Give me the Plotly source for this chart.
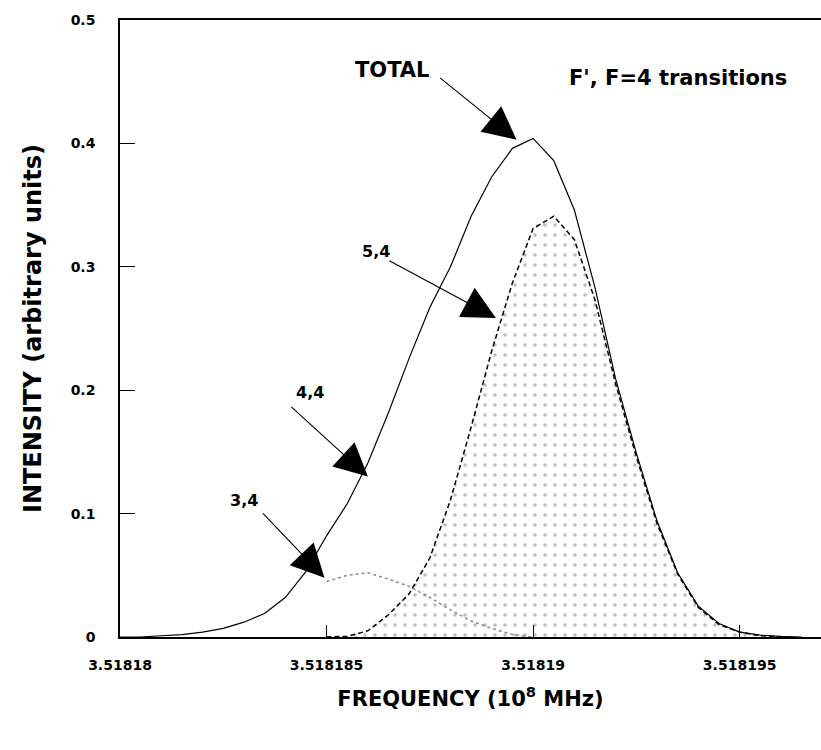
import plotly.graph_objects as go

# Frequency samples (10^8 MHz)
freq = [3.51818, 3.5181805, 3.518181, 3.5181815, 3.518182, 3.5181825, 3.518183,
        3.5181835, 3.518184, 3.5181845, 3.518185, 3.5181855, 3.518186, 3.5181865,
        3.518187, 3.5181875, 3.518188, 3.5181885, 3.518189, 3.5181895, 3.51819,
        3.5181905, 3.518191, 3.5181915, 3.518192, 3.5181925, 3.518193, 3.5181935,
        3.518194, 3.5181945, 3.518195, 3.5181955, 3.518196, 3.5181965]

total = [0.000, 0.000, 0.001, 0.002, 0.004, 0.007, 0.012, 0.019, 0.032, 0.053,
         0.082, 0.108, 0.141, 0.182, 0.226, 0.267, 0.300, 0.341, 0.373, 0.396,
         0.404, 0.386, 0.346, 0.283, 0.209, 0.149, 0.094, 0.052, 0.025, 0.011,
         0.004, 0.0015, 0.0005, 0.000]

freq_54 = freq[10:33]
trans_54 = [0.000, 0.0005, 0.005, 0.018, 0.035, 0.064, 0.111, 0.170, 0.232, 0.287,
            0.331, 0.341, 0.322, 0.273, 0.205, 0.146, 0.092, 0.051, 0.024, 0.010,
            0.004, 0.001, 0.000]

freq_34 = freq[10:21]
trans_34 = [0.045, 0.050, 0.052, 0.047, 0.041, 0.032, 0.022, 0.013, 0.007, 0.002, 0.000]

x_ticks = [3.51818, 3.518185, 3.51819, 3.518195]
x_tick_text = ["3.51818", "3.518185", "3.51819", "3.518195"]
y_ticks = [0, 0.1, 0.2, 0.3, 0.4, 0.5]
y_tick_text = ["0", "0.1", "0.2", "0.3", "0.4", "0.5"]

FONT = "DejaVu Sans, Liberation Sans, Arial, sans-serif"

fig = go.Figure()

fig.add_trace(go.Scatter(
    x=freq_54, y=trans_54, mode="lines", name="5,4",
    line=dict(color="black", width=1.5, dash="5px,3px"),
    fill="tozeroy", fillcolor="rgba(255,255,255,0)",
    fillpattern=dict(shape=".", fgcolor="#777777", bgcolor="white", size=10, solidity=0.1),
))
fig.add_trace(go.Scatter(
    x=freq_34, y=trans_34, mode="lines", name="3,4",
    line=dict(color="#8a8a8a", width=1.5, dash="dot"),
))
fig.add_trace(go.Scatter(
    x=freq, y=total, mode="lines", name="TOTAL",
    line=dict(color="black", width=1.2),
))

# Labels
labels = [
    ("<b>TOTAL</b>", 3.5181866, 0.4595, 21),
    ("<b>F', F=4 transitions</b>", 3.5181935, 0.453, 21),
    ("<b>5,4</b>", 3.5181862, 0.312, 16),
    ("<b>4,4</b>", 3.5181846, 0.198, 16),
    ("<b>3,4</b>", 3.518183, 0.111, 16),
]
for txt, lx, ly, fs in labels:
    fig.add_annotation(x=lx, y=ly, xref="x", yref="y", text=txt, showarrow=False,
                       font=dict(family=FONT, size=fs, color="black"))

# Arrows (tip on curve, tail offset in px)
arrows = [
    (3.5181896, 0.403, -78, -63),
    (3.5181891, 0.2585, -108, -58),
    (3.518186, 0.130, -78, -71),
    (3.51818495, 0.048, -63, -66),
]
for ax_, ay_, dx, dy in arrows:
    fig.add_annotation(x=ax_, y=ay_, xref="x", yref="y", text="", showarrow=True,
                       ax=dx, ay=dy, arrowhead=2, arrowsize=6, arrowwidth=1.1,
                       arrowcolor="black", standoff=0)

fig.update_layout(
    width=821, height=750,
    margin=dict(l=120, r=0, t=20, b=113),
    paper_bgcolor="white", plot_bgcolor="white",
    showlegend=False,
    font=dict(family=FONT, color="black"),
)
fig.update_xaxes(
    range=[3.51818, 3.51819697], tickvals=x_ticks, ticktext=[f"<b>{t}</b>" for t in x_tick_text],
    showgrid=False, zeroline=False, showline=True, linecolor="black", linewidth=1.5,
    mirror=True, ticks="inside", ticklen=12, tickcolor="black", tickwidth=1.2,
    tickfont=dict(size=14, family=FONT), ticklabelstandoff=14,
    title=dict(text="<b>FREQUENCY (10<sup>8</sup> MHz)</b>", font=dict(size=21, family=FONT), standoff=20),
)
fig.update_yaxes(
    range=[0, 0.5], tickvals=y_ticks, ticktext=[f"<b>{t}</b>" for t in y_tick_text],
    showgrid=False, zeroline=False, showline=True, linecolor="black", linewidth=1.5,
    mirror=False, ticks="inside", ticklen=15, tickcolor="black", tickwidth=1.2,
    tickfont=dict(size=14, family=FONT), ticklabelstandoff=20,
    title=dict(text="<b>INTENSITY (arbitrary units)</b>", font=dict(size=24, family=FONT), standoff=22),
)

fig.write_html("out.html")
